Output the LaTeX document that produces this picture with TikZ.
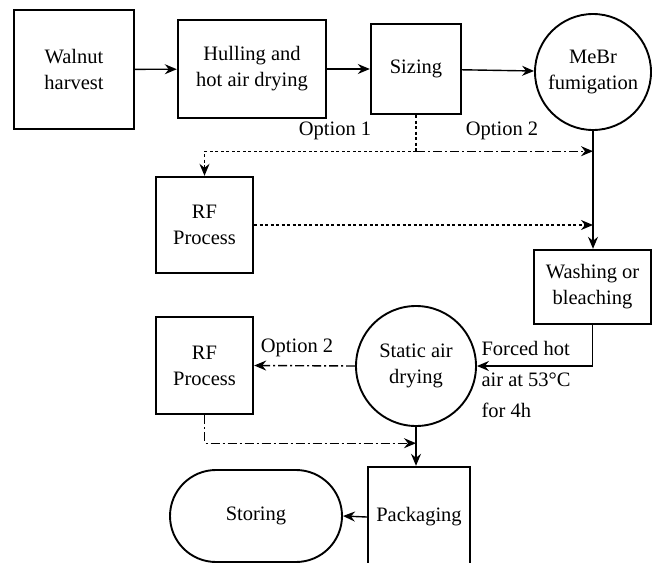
\documentclass[tikz,border=0pt]{standalone}
\usepackage{fontspec}
\setmainfont{Liberation Serif}
\newfontfamily\flowfont{Liberation Serif}
\usetikzlibrary{arrows.meta,calc}

\newcommand{\diagfont}{\flowfont\fontsize{20.5}{26}\selectfont}
\tikzset{
    box/.style={draw, line width=2.4pt, align=center, inner sep=0pt, font=\diagfont},
    ring/.style={draw, circle, line width=1.9pt, align=center, inner sep=0pt, font=\diagfont},
    tag/.style={font=\diagfont},
    flow/.style={line width=1.4pt, -{Stealth[length=12pt,width=10pt,inset=4pt]}},
    dotline/.style={dash pattern=on 3pt off 2.5pt},
    dashdotline/.style={dash pattern=on 9pt off 3pt on 2pt off 3pt},
}

\begin{document}
\begin{tikzpicture}[x=1pt, y=-1pt]
    \useasboundingbox (0,0) rectangle (658,562);
    % Top row
    \node[box, minimum width=120pt, minimum height=119pt] (walnut) at (74,69.5) {Walnut\\harvest};
    \node[box, minimum width=148pt, minimum height=98pt] (hulling) at (252,69) {Hulling and\\hot air drying};
    \node[box, minimum width=90pt, minimum height=90pt] (sizing) at (416,69) {Sizing};
    \node[ring, minimum size=116pt] (mebr) at (593,72) {MeBr\\fumigation};
    % Middle
    \node[box, minimum width=97pt, minimum height=96pt] (rfa) at (204.5,225) {RF\\Process};
    \node[box, minimum width=117pt, minimum height=74pt] (washing) at (592.5,287) {Washing or\\bleaching};
    \node[ring, minimum size=120pt] (static) at (416,366) {Static air\\drying};
    \node[box, minimum width=97pt, minimum height=97pt] (rfb) at (204.5,365.5) {RF\\Process};
    % Bottom
    \node[box, minimum width=102pt, minimum height=100pt] (packaging) at (419,517) {Packaging};
    \node[draw, line width=1.9pt, rounded corners=46pt, minimum width=172pt, minimum height=92pt, font=\diagfont] (storing) at (256,516) {Storing};

    \coordinate (split) at ($(sizing.south)+(0,36)$);
    \coordinate (merge) at ($(rfb.south)+(0,28)$);

    % Connectors
    \draw[flow] (walnut) -- (hulling);
    \draw[flow] (hulling) -- (sizing);
    \draw[flow] (sizing) -- (mebr);
    \draw[flow] (mebr.south) -- (mebr.south |- washing.north);
    \draw[line width=1.4pt, dotline] (sizing.south) -- (split);
    \draw[flow, dashdotline] (split) -- (mebr.south |- split);
    \draw[flow, dotline] (split) -- (rfa.north |- split) -- (rfa.north);
    \draw[flow, dotline] (rfa.east) -- (mebr.south |- rfa.east);
    \draw[flow] (washing.south) -- (washing.south |- static.east) -- (static.east);
    \draw[flow, dashdotline] (static.west) -- (rfb.east);
    \draw[flow, dashdotline] (rfb.south) -- (merge) -- (static.south |- merge);
    \draw[flow] (static.south) -- (static.south |- packaging.north);
    \draw[flow] (packaging.west) -- (storing.east);

    % Labels
    \node[tag] (opta) at (335,131) {Option 1};
    \node[tag] (optb) at (502,131) {Option 2};
    \node[tag] (optc) at (297,348) {Option 2};
    \node[tag, anchor=west, align=left] (forced) at (478,379) {Forced hot\\[5pt]air at 53\textdegree C\\[5pt]for 4h};
\end{tikzpicture}
\end{document}
